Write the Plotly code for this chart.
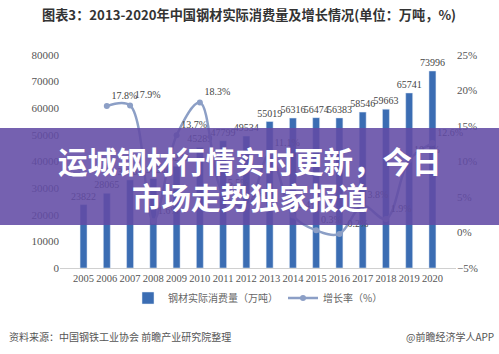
import plotly.graph_objects as go

years = [str(y) for y in range(2005, 2021)]
consumption = [23822, 28065, 33089, 33620, 38230, 45289, 47799, 49534,
               55019, 56316, 56474, 56383, 58546, 59663, 65741, 73996]
growth = [None, 17.8, 17.9, 1.6, 13.7, 18.3, 5.5, 3.6,
          11.1, 2.4, 0.3, -0.2, 3.8, 1.9, 10.2, 12.6]
growth_labels = ["" if g is None else f"{g}%" for g in growth]

title = "图表3：2013-2020年中国钢材实际消费量及增长情况(单位：万吨，%)"
source = "资料来源：中国钢铁工业协会 前瞻产业研究院整理"
credit = "@前瞻经济学人APP"
banner1 = "运城钢材行情实时更新，今日"
banner2 = "市场走势独家报道"

W, H = 499, 354
L, R, T, B = 60, 43, 55, 86
pw, ph = W - L - R, H - T - B

def px_x(x):
    return (x - L) / pw

def px_y(y):
    return (H - B - y) / ph

serif = "Liberation Serif"
cjk = "Noto Sans CJK SC"

fig = go.Figure()
fig.add_trace(go.Bar(
    x=years, y=consumption, name="钢材实际消费量（万吨）",
    marker=dict(color="#3b6db3"), width=0.3,
    text=[str(v) for v in consumption], textposition="outside",
    constraintext="none", cliponaxis=False,
    textfont=dict(family=serif, size=10, color="#444"),
))
fig.add_trace(go.Scatter(
    x=years, y=growth, name="增长率（%）", yaxis="y2",
    mode="lines+markers+text", line=dict(color="#8c9fc6", width=2.5, shape="spline"),
    marker=dict(size=6, color="#8c9fc6"),
    text=growth_labels, textposition="top right", cliponaxis=False,
    textfont=dict(family=serif, size=10, color="#444"),
))

fig.update_layout(
    width=W, height=H,
    margin=dict(l=L, r=R, t=T, b=B),
    paper_bgcolor="white", plot_bgcolor="white",
    showlegend=True,
    legend=dict(orientation="h", x=0.5, xanchor="center", y=px_y(298), yanchor="middle",
                font=dict(family=cjk, size=10, color="#666"), bgcolor="rgba(0,0,0,0)",
                itemwidth=30),
    bargap=0.7,
    xaxis=dict(showgrid=False, showline=True, linecolor="#d0d0d0", ticks="",
               tickangle=0, automargin=False,
               tickfont=dict(family=serif, size=10.5, color="#555")),
    yaxis=dict(range=[0, 80000], dtick=10000, showgrid=False, zeroline=False,
               tickfont=dict(family=serif, size=11, color="#555"), ticks="",
               tickformat="d", automargin=False),
    yaxis2=dict(range=[-5, 25], dtick=5, overlaying="y", side="right", showgrid=False,
                zeroline=False, ticksuffix="%", automargin=False,
                tickfont=dict(family=serif, size=11, color="#555")),
    font=dict(family=cjk),
)

fig.add_annotation(text=title, xref="paper", yref="paper", x=px_x(249), y=px_y(15),
                   showarrow=False, xanchor="center", yanchor="middle",
                   font=dict(family=cjk, size=13.2, color="#333", weight="bold"))
fig.add_annotation(text=source, xref="paper", yref="paper", x=px_x(7), y=px_y(336),
                   showarrow=False, xanchor="left", yanchor="middle",
                   font=dict(family=cjk, size=10, color="#555"))
fig.add_annotation(text=credit, xref="paper", yref="paper", x=px_x(496), y=px_y(336),
                   showarrow=False, xanchor="right", yanchor="middle",
                   font=dict(family=cjk, size=10, color="#555"))

fig.add_shape(type="rect", xref="paper", yref="paper",
              x0=px_x(-5), x1=px_x(505), y0=px_y(225), y1=px_y(128),
              fillcolor="rgba(98,75,165,0.88)", line=dict(width=0), layer="above")
fig.add_annotation(text=banner1, xref="paper", yref="paper", x=px_x(250), y=px_y(160),
                   showarrow=False, xanchor="center", yanchor="middle",
                   font=dict(family=cjk, size=29.5, color="white", weight="bold"))
fig.add_annotation(text=banner2, xref="paper", yref="paper", x=px_x(250), y=px_y(196),
                   showarrow=False, xanchor="center", yanchor="middle",
                   font=dict(family=cjk, size=29.5, color="white", weight="bold"))

fig.write_html("out.html")
